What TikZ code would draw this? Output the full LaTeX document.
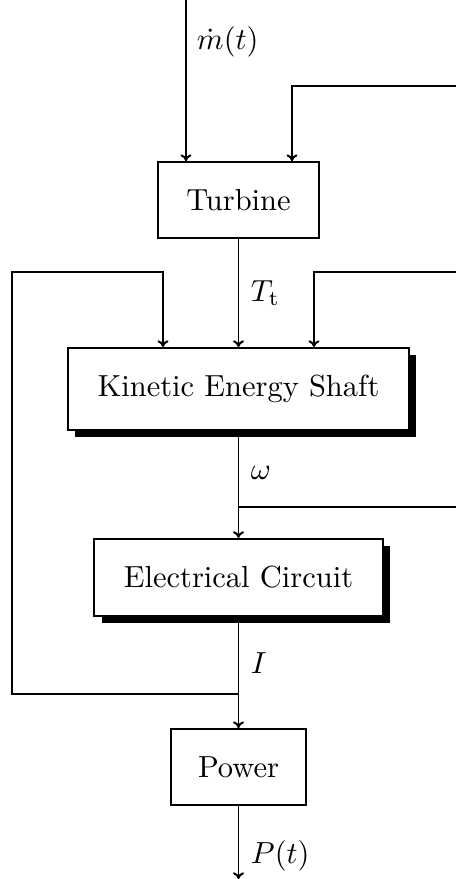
\documentclass[tikz,border=0pt]{standalone}
\usetikzlibrary{arrows.meta,positioning,shadows}

\begin{document}
\begin{tikzpicture}[x=0.328pt,y=-0.328pt,line width=0.65pt,>={To[length=2.2pt,width=3.6pt]},
    blockbox/.style={draw,fill=white,inner sep=0pt},
    shadowbox/.style={blockbox,drop shadow={shadow xshift=2.4pt,shadow yshift=-2.3pt,fill=black,opacity=1}},
    sig/.style={anchor=west,inner sep=0pt}]
  \useasboundingbox (0,0) rectangle (456,879);
  % blocks
  \node[blockbox,minimum width=53.1pt,minimum height=24.9pt] (turb) at (238.5,200) {Turbine};
  \node[shadowbox,minimum width=111.8pt,minimum height=26.9pt] (kes) at (238.5,389) {Kinetic Energy Shaft};
  \node[shadowbox,minimum width=94.5pt,minimum height=25.3pt] (circ) at (238.5,577.5) {Electrical Circuit};
  \node[blockbox,minimum width=44.6pt,minimum height=24.9pt] (pow) at (238.5,767) {Power};
  % free ends and corners
  \coordinate (min) at (186,0);
  \coordinate (rtop) at (456,86);
  \coordinate (tcol) at (292,86);
  \coordinate (lbot) at (12,694);
  \coordinate (ltop) at (12,272);
  \coordinate (lcol) at (163,272);
  \coordinate (rmid) at (456,272);
  \coordinate (rcol) at (314,272);
  \coordinate (jw) at (238.5,507);
  \coordinate (rw) at (456,507);
  \coordinate (jI) at (238.5,694);
  \coordinate (pout) at (238.5,879);
  % main chain
  \draw[->] (min) -- (min |- turb.north);
  \draw[->] (rtop) -- (tcol) -- (tcol |- turb.north);
  \draw[->] (turb.south) -- (kes.north);
  \draw[->] (kes.south) -- (circ.north);
  \draw[->] (circ.south) -- (pow.north);
  \draw[->] (pow.south) -- (pout);
  % feedback lines
  \draw[->] (jI) -- (lbot) -- (ltop) -- (lcol) -- (lcol |- kes.north);
  \draw[->] (rmid) -- (rcol) -- (rcol |- kes.north);
  \draw (jw) -- (rw);
  % signal labels
  \node[sig] (lmdot) at (196,42) {$\dot m(t)$};
  \node[sig] (ltt) at (250,293) {$T_\mathrm{t}$};
  \node[sig] (lw) at (250,473) {$\omega$};
  \node[sig] (li) at (250,663) {$I$};
  \node[sig] (lp) at (250,856) {$P(t)$};
\end{tikzpicture}
\end{document}
